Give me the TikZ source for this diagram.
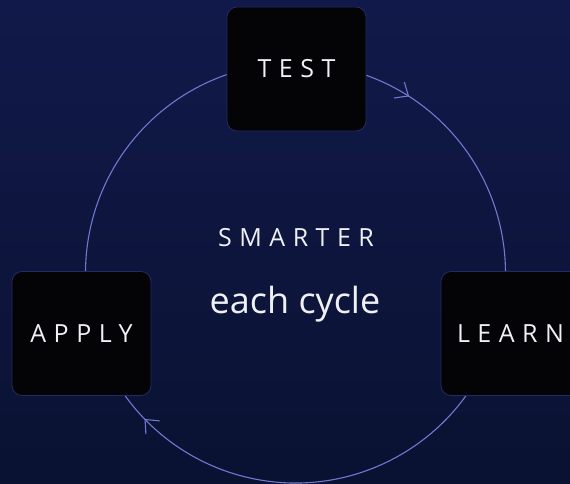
\documentclass[tikz,border=0pt]{standalone}
\usepackage{fontspec}
\setmainfont{Open Sans}
\newfontfamily\trackfont[LetterSpace=30]{Open Sans}
\usepackage{xcolor}
\usepackage{tikz}
\usetikzlibrary{arrows.meta, positioning, calc, decorations.markings}
\definecolor{cyc_bgtop}{RGB}{17, 25, 74}
\definecolor{cyc_bgbot}{RGB}{10, 18, 50}
\definecolor{cyc_ring}{RGB}{112, 120, 210}
\definecolor{cyc_edge}{RGB}{34, 44, 100}
\definecolor{cyc_box}{RGB}{4, 4, 6}
\definecolor{cyc_text}{RGB}{240, 241, 246}

\begin{document}
\begin{tikzpicture}[x=1pt, y=1pt,
            stage/.style={draw=cyc_edge, fill=cyc_box, line width=0.8pt,
                          rounded corners=10pt, minimum width=139pt,
                          minimum height=124pt, text=cyc_text,
                          font=\trackfont\fontsize{25}{25}\selectfont},
            ring/.style={draw=cyc_ring, line width=1.1pt},
            flowmark/.style={postaction={decorate}, decoration={markings,
                          mark=at position #1 with {\arrow[cyc_ring, line width=1.1pt]
                          {Straight Barb[length=11pt, width=19pt]}}}}]
            \useasboundingbox (0,0) rectangle (570,483);
            \clip (0,0) rectangle (570,483);
            \shade[top color=cyc_bgtop, bottom color=cyc_bgbot] (0,0) rectangle (570,483);
            \coordinate (hub) at (295.5,210);
            % ring behind the stages
            \draw[ring, flowmark=0.31] ($(hub)+(90:210)$)
              arc[start angle=90, end angle=-15.7, radius=210];
            \draw[ring, flowmark=0.81] ($(hub)+(-15.7:210)$)
              arc[start angle=-15.7, end angle=-164.2, radius=210];
            \draw[ring] ($(hub)+(195.8:210)$)
              arc[start angle=195.8, end angle=90, radius=210];
            \node[stage] (test) at (296.5,414) {TEST};
            \node[stage] (learn) at (510.5,149.5) {LEARN};
            \node[stage] (apply) at (81.5,149.5) {APPLY};
            \node[text=cyc_text, font=\trackfont\fontsize{25}{25}\selectfont]
              (smarter) at (296,245) {SMARTER};
            \node[text=cyc_text, font=\fontsize{36}{36}\selectfont, anchor=base]
              (cycle) at (295,170) {each cycle};
          \end{tikzpicture}
\end{document}
